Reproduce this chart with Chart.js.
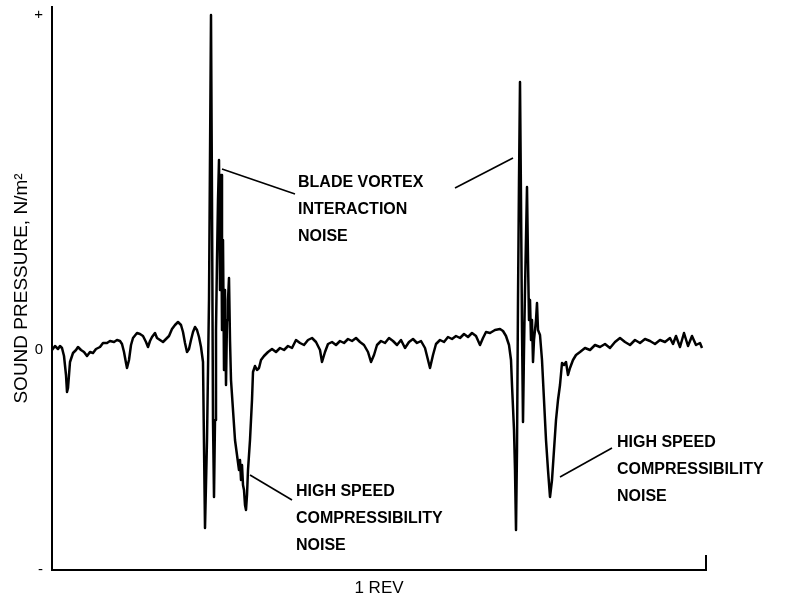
<!DOCTYPE html>
<html>
<head>
<meta charset="utf-8">
<script src="https://cdn.jsdelivr.net/npm/chart.js@4.4.0/dist/chart.umd.min.js"></script>
<style>
  html, body { margin: 0; padding: 0; background: #fff; }
  #wrap { width: 786px; height: 600px; }
</style>
</head>
<body>
<div id="wrap"><canvas id="chart" width="786" height="600"></canvas></div>
<script>
// microphone trace: sample position along the record, pressure in arbitrary counts
const sampleIdx = [
  0, 3, 6, 8, 10, 12, 14, 15, 16, 18, 21, 24, 26, 29, 32, 35, 38, 41, 44, 48,
  51, 55, 58, 62, 65, 68, 70, 72, 74, 75, 77, 79, 81, 85, 88, 91, 94, 96, 98, 100,
  103, 105, 108, 111, 114, 117, 120, 123, 126, 129, 131, 133, 135, 137, 139, 141, 143, 145, 147, 149,
  151, 153, 155, 157, 159, 160, 161, 162, 163, 164, 165, 166, 167, 168, 169, 170, 171, 172, 173, 174,
  175, 176, 177, 178, 179, 181, 183, 185, 187, 188, 189, 190, 191, 192, 193, 194, 195, 196, 198, 200,
  201, 203, 205, 207, 209, 212, 216, 220, 224, 228, 232, 236, 240, 244, 248, 252, 256, 260, 264, 268,
  270, 273, 276, 280, 284, 288, 292, 296, 300, 304, 308, 312, 316, 319, 322, 325, 329, 333, 337, 341,
  345, 349, 353, 357, 361, 365, 369, 373, 376, 378, 381, 384, 388, 392, 396, 400, 404, 408, 412, 416,
  420, 424, 428, 431, 434, 438, 443, 448, 451, 454, 457, 459, 460, 462, 463, 464, 465, 466, 467, 468,
  469, 470, 471, 472, 473, 475, 476, 477, 478, 479, 480, 481, 482, 483, 484, 485, 486, 488, 490, 492,
  494, 496, 498, 500, 502, 504, 506, 508, 510, 512, 514, 516, 518, 521, 524, 528, 533, 538, 543, 548,
  553, 558, 563, 568, 573, 578, 583, 588, 593, 598, 603, 608, 613, 618, 621, 624, 628, 632, 636, 640,
  644, 648, 650
];
const pressure = [
  0, 4, 1, 4, 2, -6, -25, -42, -38, -12, -3, 0, 3, 0, -2, -6, -2, -3, 1, 3,
  7, 7, 9, 8, 10, 9, 6, -2, -13, -18, -10, 5, 12, 17, 16, 14, 8, 3, 9, 13,
  17, 12, 10, 8, 11, 14, 21, 25, 28, 25, 18, 7, -2, 1, 10, 18, 23, 20, 13, 3,
  -12, -178, -90, 50, 335, 150, -70, -147, -70, 20, 90, 150, 190, 60, 175, 20, 110, -20, 60, -35,
  30, 50, 72, 10, -30, -60, -90, -105, -120, -110, -130, -115, -135, -140, -155, -160, -145, -120, -90, -50,
  -22, -16, -20, -18, -10, -6, -2, 1, -2, 2, 0, 4, 2, 10, 7, 5, 10, 12, 8, 0,
  -12, -2, 6, 8, 5, 9, 7, 11, 9, 12, 8, 5, -2, -12, -5, 5, 9, 7, 12, 9,
  5, 10, 2, 8, 11, 7, 9, 2, -10, -18, -5, 6, 10, 8, 13, 11, 14, 12, 16, 13,
  17, 14, 5, 12, 18, 17, 20, 21, 19, 14, 5, -10, -35, -80, -120, -180, -100, 50, 170, 268,
  150, 20, -72, 0, 60, 163, 90, 30, 50, 10, 30, -12, 10, 20, 30, 47, 20, 15, -10, -50,
  -90, -120, -147, -130, -100, -70, -50, -35, -13, -15, -12, -25, -18, -10, -5, -2, 2, 0, 5, 3,
  6, 2, 8, 12, 8, 5, 10, 7, 11, 9, 6, 10, 8, 12, 6, 14, 3, 17, 4, 14,
  5, 7, 2
];
const tickValues = [-220, 0, 335];
const tickLabels = ["-", "0", "+"];
const yMin = -220, yMax = 343;
const xMin = 0, xMax = 654;

// callouts: text block anchor (sample, pressure) and leader lines [from, to]
const notes = [
  { lines: ["BLADE VORTEX", "INTERACTION", "NOISE"], at: [246, 167],
    leaders: [[[170, 181], [243, 156]], [[461, 192], [403, 162]]] },
  { lines: ["HIGH SPEED", "COMPRESSIBILITY", "NOISE"], at: [244, -142],
    leaders: [[[198, -125], [240, -150]]] },
  { lines: ["HIGH SPEED", "COMPRESSIBILITY", "NOISE"], at: [565, -93],
    leaders: [[[508, -127], [560, -98]]] }
];

const calloutPlugin = {
  id: "callouts",
  afterDatasetsDraw(chart) {
    const { ctx, scales: { x, y } } = chart;
    ctx.save();
    ctx.strokeStyle = "#000";
    ctx.lineWidth = 1.6;
    ctx.fillStyle = "#000";
    ctx.font = "bold 16px 'Liberation Sans', Arial, sans-serif";
    ctx.textBaseline = "middle";
    ctx.textAlign = "left";
    notes.forEach(n => {
      n.leaders.forEach(([a, b]) => {
        ctx.beginPath();
        ctx.moveTo(x.getPixelForValue(a[0]), y.getPixelForValue(a[1]));
        ctx.lineTo(x.getPixelForValue(b[0]), y.getPixelForValue(b[1]));
        ctx.stroke();
      });
      const tx = x.getPixelForValue(n.at[0]);
      const ty = y.getPixelForValue(n.at[1]);
      n.lines.forEach((t, i) => ctx.fillText(t, tx, ty + i * 27));
    });
    // short end mark at the right of the revolution axis
    const xr = x.getPixelForValue(xMax);
    ctx.lineWidth = 2;
    ctx.beginPath();
    ctx.moveTo(xr, y.bottom - 15);
    ctx.lineTo(xr, y.bottom);
    ctx.stroke();
    ctx.restore();
  }
};

new Chart(document.getElementById("chart"), {
  type: "line",
  data: {
    datasets: [{
      data: sampleIdx.map((s, i) => ({ x: s, y: pressure[i] })),
      borderColor: "#000",
      borderWidth: 2.5,
      borderJoinStyle: "round",
      pointRadius: 0,
      tension: 0,
      fill: false
    }]
  },
  options: {
    responsive: false,
    animation: false,
    layout: { padding: { top: 7, right: 80, bottom: 0, left: 0 } },
    plugins: { legend: { display: false }, tooltip: { enabled: false } },
    scales: {
      x: {
        type: "linear", min: xMin, max: xMax,
        grid: { display: false, drawTicks: false },
        border: { display: true, color: "#000", width: 2 },
        ticks: { display: false },
        title: { display: true, text: "1 REV", color: "#000",
                 font: { family: "'Liberation Sans', Arial, sans-serif", size: 17 },
                 padding: { top: 0, bottom: 1 } },
        afterFit: s => { s.height = 30; s.paddingLeft = 0; s.paddingRight = 0; }
      },
      y: {
        type: "linear", min: yMin, max: yMax,
        grid: { display: false, drawTicks: false },
        border: { display: true, color: "#000", width: 2 },
        afterBuildTicks: s => { s.ticks = tickValues.map(v => ({ value: v })); },
        ticks: { color: "#000", padding: 9, autoSkip: false,
                 font: { family: "'Liberation Sans', Arial, sans-serif", size: 15 },
                 callback: v => tickLabels[tickValues.indexOf(v)] },
        title: { display: true, text: "SOUND PRESSURE, N/m\u00B2", color: "#000",
                 font: { family: "'Liberation Sans', Arial, sans-serif", size: 19 },
                 padding: { top: 10, bottom: 0 } },
        afterFit: s => { s.width = 52; s.paddingTop = 0; s.paddingBottom = 0; }
      }
    }
  },
  plugins: [calloutPlugin]
});
</script>
</body>
</html>
